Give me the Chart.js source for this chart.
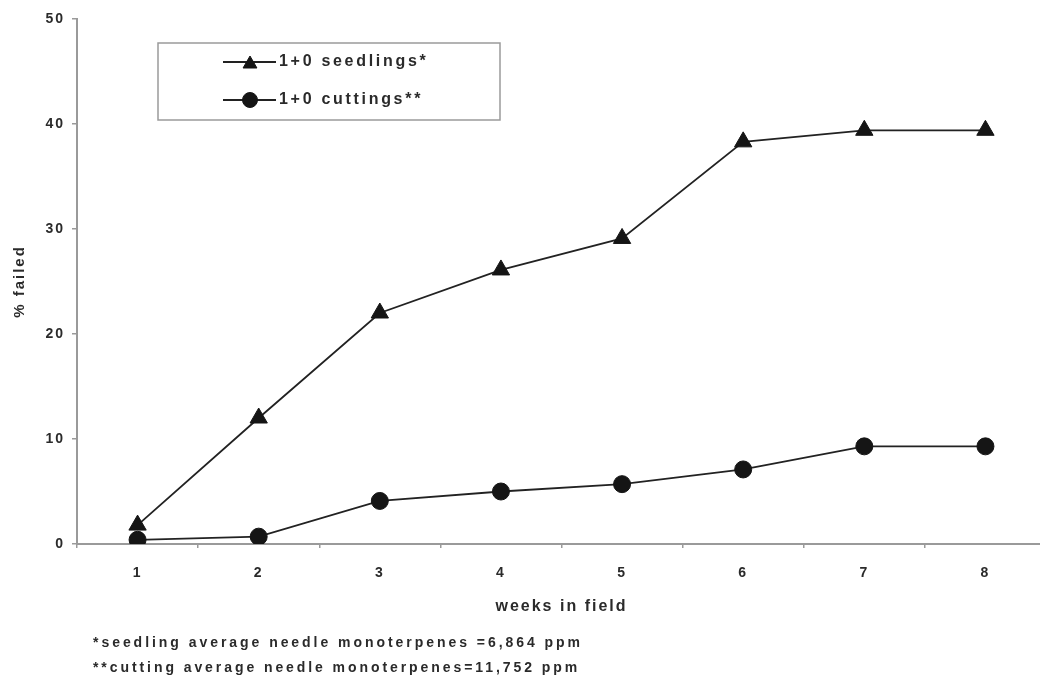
<!DOCTYPE html>
<html>
<head>
<meta charset="utf-8">
<title>% failed by weeks in field</title>
<script src="https://cdn.jsdelivr.net/npm/chart.js@4.4.1/dist/chart.umd.min.js"></script>
<style>
  html, body { margin: 0; padding: 0; background: #fff; overflow: hidden; }
  #wrap { width: 1057px; height: 679px; }
</style>
</head>
<body>
<!-- canvas is wider than the window: the x axis runs off the right edge as in the scan -->
<div id="wrap"><canvas id="chart" width="1057" height="679"></canvas></div>
<script>
"use strict";

// values
const weeks = ["1", "2", "3", "4", "5", "6", "7", "8"];
const seedlings = [1.8, 12.0, 22.0, 26.1, 29.1, 38.3, 39.4, 39.4];
const cuttings = [0.4, 0.7, 4.1, 5.0, 5.7, 7.1, 9.3, 9.3];
const yTicks = [0, 10, 20, 30, 40, 50];
const seriesNames = ["1+0 seedlings*", "1+0 cuttings**"];
const footnotes = [
  "*seedling average needle monoterpenes =6,864 ppm",
  "**cutting average needle monoterpenes=11,752 ppm",
];

const textColor = "#2a2a2a";
const axisColor = "#9a9a9a";
const font = "'Liberation Sans', Arial, sans-serif";

// the scan has widely spaced lettering; Chart.js text shares this spacing
const spacing = {
  id: "spacing",
  beforeDraw(chart) {
    chart.ctx.letterSpacing = "2px";
  },
};

// boxed legend inside the plot and the two footnotes under the axis title
const extras = {
  id: "extras",
  afterDraw(chart) {
    const ctx = chart.ctx;
    ctx.save();

    ctx.strokeStyle = axisColor;
    ctx.lineWidth = 1.5;
    ctx.strokeRect(158, 43, 342, 77);

    chart.data.datasets.forEach((ds, i) => {
      const y = 62 + i * 38;
      ctx.strokeStyle = ds.borderColor;
      ctx.lineWidth = ds.borderWidth;
      ctx.beginPath();
      ctx.moveTo(223, y);
      ctx.lineTo(276, y);
      ctx.stroke();

      ctx.fillStyle = ds.pointBackgroundColor;
      ctx.strokeStyle = ds.pointBorderColor;
      ctx.lineWidth = 1;
      const r = ds.pointStyle === "triangle" ? 8 : 7.5;
      const dy = ds.pointStyle === "triangle" ? r / 4 : 0;
      Chart.helpers.drawPoint(
        ctx,
        { pointStyle: ds.pointStyle, radius: r, rotation: 0, borderWidth: 1 },
        250,
        y + dy
      );

      ctx.fillStyle = textColor;
      ctx.font = "bold 16px " + font;
      ctx.letterSpacing = "2.7px";
      ctx.textAlign = "left";
      ctx.textBaseline = "middle";
      ctx.fillText(ds.label, 279, y);
    });

    const widths = [490, 487];
    ctx.font = "bold 14px " + font;
    ctx.fillStyle = textColor;
    ctx.textAlign = "left";
    ctx.textBaseline = "middle";
    footnotes.forEach((t, i) => {
      ctx.letterSpacing = "0px";
      const w = ctx.measureText(t).width;
      ctx.letterSpacing = (widths[i] - w) / t.length + "px";
      ctx.fillText(t, 93, 643 + i * 25);
    });

    ctx.restore();
  },
};

const chart = new Chart(document.getElementById("chart"), {
  type: "line",
  data: {
    labels: weeks,
    datasets: [
      {
        label: seriesNames[0],
        data: seedlings,
        borderColor: "#222",
        borderWidth: 1.8,
        pointStyle: "triangle",
        pointRadius: 10,
        pointBackgroundColor: "#151515",
        pointBorderColor: "#151515",
        pointBorderWidth: 1,
        tension: 0,
      },
      {
        label: seriesNames[1],
        data: cuttings,
        borderColor: "#222",
        borderWidth: 1.8,
        pointStyle: "circle",
        pointRadius: 8.5,
        pointBackgroundColor: "#151515",
        pointBorderColor: "#151515",
        pointBorderWidth: 1,
        tension: 0,
      },
    ],
  },
  options: {
    responsive: false,
    animation: false,
    layout: { padding: { top: 19, left: 0, right: 0, bottom: 0 } },
    plugins: {
      legend: { display: false },
      tooltip: { enabled: false },
    },
    scales: {
      x: {
        type: "category",
        offset: true,
        afterFit: (s) => { s.height = 135; },
        grid: {
          offset: true,
          drawOnChartArea: false,
          drawTicks: true,
          tickLength: 4,
          color: axisColor,
          lineWidth: 1.5,
        },
        border: { display: true, color: axisColor, width: 2 },
        ticks: {
          color: textColor,
          font: { family: font, size: 14, weight: "bold" },
          padding: 17,
          maxRotation: 0,
        },
        title: {
          display: true,
          text: "weeks in field",
          color: textColor,
          font: { family: font, size: 16, weight: "bold" },
          padding: { top: 0, bottom: 63 },
        },
      },
      y: {
        min: 0,
        max: 50,
        afterFit: (s) => { s.width = 77; },
        afterBuildTicks: (s) => { s.ticks = yTicks.map((v) => ({ value: v })); },
        grid: {
          drawOnChartArea: false,
          drawTicks: true,
          tickLength: 5,
          color: axisColor,
          lineWidth: 1.5,
        },
        border: { display: true, color: axisColor, width: 2 },
        ticks: {
          color: textColor,
          font: { family: font, size: 14, weight: "bold" },
          padding: 7,
        },
        title: {
          display: true,
          text: "% failed",
          color: textColor,
          font: { family: font, size: 15, weight: "bold" },
          padding: { top: 11, bottom: 0 },
        },
      },
    },
  },
  plugins: [spacing, extras],
});
</script>
</body>
</html>
